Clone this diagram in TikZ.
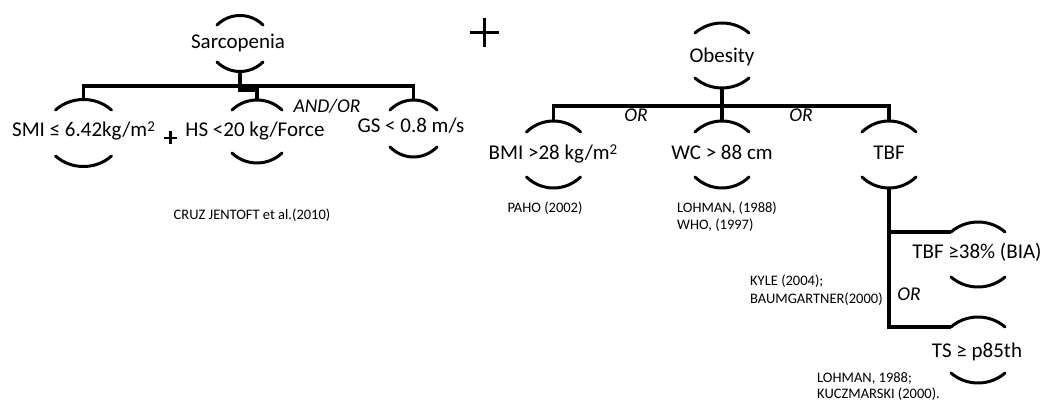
\documentclass[tikz,border=0pt]{standalone}
\usepackage{fontspec}
\setmainfont{Carlito}
\tikzset{
  arcline/.style={line width=3pt, line cap=round},
  conn/.style={line width=3.2pt, line join=miter},
  lbl/.style={inner sep=0pt, anchor=base, font=\fontsize{21}{25}\selectfont},
  orlbl/.style={inner sep=0pt, anchor=base, font=\fontsize{19.5}{23}\selectfont\itshape},
  ref/.style={inner sep=0pt, anchor=base, font=\fontsize{14.5}{16.5}\selectfont},
  refl/.style={inner sep=0pt, anchor=base west, align=left, font=\fontsize{14.5}{16.5}\selectfont},
  plusline/.style={line width=2.6pt}
}
\newcommand{\sqsup}{\raisebox{5pt}{\fontsize{15}{16}\selectfont 2}}
% name, cx, top-arc end y, bottom-arc end y, half width, sag
\newcommand{\brk}[6]{%
  \coordinate (#1-t) at (#2,{#3-#6});
  \coordinate (#1-b) at (#2,{#4+#6});
  \coordinate (#1-tl) at ({#2-#5},#3);
  \draw[arcline] ({#2-#5},#3) .. controls ({#2-0.44*#5},{#3-1.333*#6}) and ({#2+0.44*#5},{#3-1.333*#6}) .. ({#2+#5},#3);
  \draw[arcline] ({#2-#5},#4) .. controls ({#2-0.44*#5},{#4+1.333*#6}) and ({#2+0.44*#5},{#4+1.333*#6}) .. ({#2+#5},#4);
}
\begin{document}
\begin{tikzpicture}[x=1pt,y=-1pt]
\fill[white] (0,0) rectangle (1044,403);
\useasboundingbox (0,0) rectangle (1044,403);

% ---------- Sarcopenia ----------
\brk{sarc}{240}{25}{62}{23}{9.5}
\node[lbl] (sarcT) at (238,49) {Sarcopenia};
\brk{smi}{83.5}{110}{156}{28}{10.5}
\node[lbl] (smiT) at (83.5,137) {SMI ≤ 6.42kg/m\sqsup};
\brk{hs}{257}{110}{153}{25}{10}
\node[lbl] (hsT) at (255,137) {HS <20 kg/Force};
\brk{gs}{413.5}{110}{147}{23.5}{10}
\node[lbl] (gsT) at (411,133) {GS < 0.8 m/s};

\coordinate (sj1) at (83.5,86);
\coordinate (sj2) at (413.5,86);
\coordinate (sjm) at (240,86);
\draw[conn] (sarc-b) -- (sjm);
\draw[conn] (smi-t) -- (sj1) -- (sj2) -- (gs-t);
\draw[conn] (sjm) -- (240,90) -- (257,90) -- (hs-t);

\node[orlbl] (andor) at (327,113) {AND/OR};
\draw[plusline] (164,138) -- (177,138) (170.5,131.5) -- (170.5,144.5);
\node[ref] (cruz) at (252,220) {CRUZ JENTOFT et al.(2010)};

% big plus
\draw[plusline] (470,32.5) -- (499,32.5) (484.5,18) -- (484.5,47);

% ---------- Obesity ----------
\brk{obe}{722}{33}{78}{27}{10}
\node[lbl] (obeT) at (722,63) {Obesity};
\brk{bmi}{553.5}{132}{177}{27}{11}
\node[lbl] (bmiT) at (553,160) {BMI >28 kg/m\sqsup};
\brk{wc}{722}{132}{177}{27}{11}
\node[lbl] (wcT) at (722,160) {WC > 88 cm};
\brk{tbf}{889}{132}{177}{27}{11}
\node[lbl] (tbfT) at (889,160) {TBF};

\coordinate (oj1) at (553.5,106);
\coordinate (oj2) at (889,106);
\draw[conn] (obe-b) -- (wc-t);
\draw[conn] (bmi-t) -- (oj1) -- (oj2) -- (tbf-t);

\node[orlbl] (or1) at (636,122) {OR};
\node[orlbl] (or2) at (801,122) {OR};

\node[ref] (paho) at (545,212.5) {PAHO (2002)};
\node[refl] (lohwho) at (677,229.5) {LOHMAN, (1988)\\WHO, (1997)};

% ---------- TBF branches ----------
\brk{bia}{978}{232}{277}{27}{10}
\node[lbl] (biaT) at (977,258.5) {TBF ≥38\% (BIA)};
\brk{ts}{978}{327}{373}{27}{10}
\node[lbl] (tsT) at (977,357) {TS ≥ p85th};

\coordinate (tj1) at (889,232);
\coordinate (tj2) at (889,327);
\draw[conn] (tbf-b) -- (tj2) -- (ts-tl);
\draw[conn] (tj1) -- (bia-tl);

\node[orlbl] (or3) at (909,300.5) {OR};
\node[refl, font=\fontsize{14.5}{18}\selectfont] (kyle) at (750,304) {KYLE (2004);\\BAUMGARTNER(2000)};
\node[refl, font=\fontsize{14.5}{16}\selectfont] (kucz) at (817,398) {LOHMAN, 1988;\\KUCZMARSKI (2000).};
\end{tikzpicture}
\end{document}
